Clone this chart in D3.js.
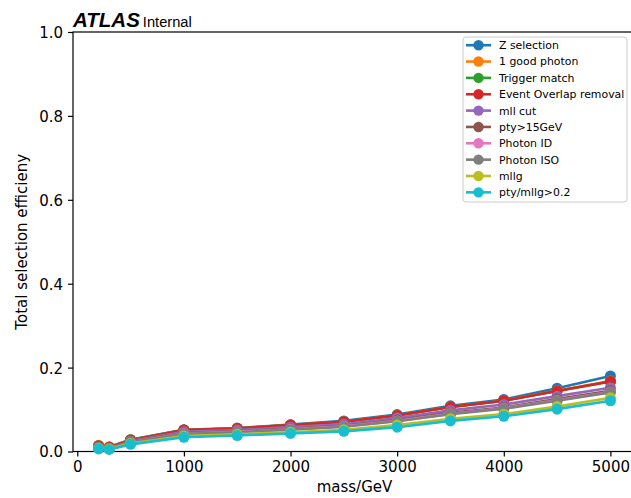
<!DOCTYPE html>
<html>
<head>
<meta charset="utf-8">
<script src="https://cdn.jsdelivr.net/npm/d3@7"></script>
<style>
  html, body { margin: 0; padding: 0; background: #fff; }
  svg { display: block; }
  .tick text { font-family: "DejaVu Sans", sans-serif; }
</style>
</head>
<body>
<svg id="chart" width="631" height="498"></svg>
<script>
// Signal mass points (GeV)
const masses = [200, 300, 500, 1000, 1500, 2000, 2500, 3000, 3500, 4000, 4500, 5000];

// Cumulative selection efficiency after each cut
const zSelection      = [0.013, 0.011, 0.028, 0.052, 0.056, 0.064, 0.073, 0.088, 0.109, 0.124, 0.151, 0.180];
const goodPhoton      = [0.015, 0.011, 0.028, 0.051, 0.055, 0.063, 0.071, 0.086, 0.106, 0.121, 0.145, 0.168];
const triggerMatch    = [0.014, 0.010, 0.028, 0.051, 0.055, 0.063, 0.071, 0.086, 0.106, 0.121, 0.144, 0.167];
const overlapRemoval  = [0.013, 0.010, 0.027, 0.051, 0.055, 0.063, 0.071, 0.086, 0.106, 0.121, 0.144, 0.167];
const mllCut          = [0.011, 0.008, 0.025, 0.047, 0.051, 0.058, 0.065, 0.080, 0.098, 0.112, 0.132, 0.152];
const ptyCut          = [0.010, 0.007, 0.023, 0.044, 0.048, 0.054, 0.061, 0.075, 0.092, 0.105, 0.125, 0.145];
const photonID        = [0.009, 0.007, 0.022, 0.043, 0.047, 0.053, 0.060, 0.073, 0.090, 0.103, 0.122, 0.142];
const photonISO       = [0.009, 0.007, 0.022, 0.042, 0.046, 0.052, 0.059, 0.072, 0.089, 0.102, 0.121, 0.141];
const mllgCut         = [0.007, 0.006, 0.019, 0.037, 0.041, 0.046, 0.052, 0.063, 0.078, 0.089, 0.107, 0.128];
const ptyOverMllg     = [0.006, 0.005, 0.017, 0.034, 0.038, 0.043, 0.048, 0.058, 0.073, 0.084, 0.101, 0.121];

const seriesNames = ["Z selection", "1 good photon", "Trigger match", "Event Overlap removal",
                     "mll cut", "pty>15GeV", "Photon ID", "Photon ISO", "mllg", "pty/mllg>0.2"];
const seriesValues = [zSelection, goodPhoton, triggerMatch, overlapRemoval, mllCut,
                      ptyCut, photonID, photonISO, mllgCut, ptyOverMllg];
const seriesColors = ["#1f77b4", "#ff7f0e", "#2ca02c", "#d62728", "#9467bd",
                      "#8c564b", "#e377c2", "#7f7f7f", "#bcbd22", "#17becf"];

const xTicks = [0, 1000, 2000, 3000, 4000, 5000];
const yTicks = [0.0, 0.2, 0.4, 0.6, 0.8, 1.0];

const svg = d3.select("#chart");
const plot = { left: 73, top: 32, right: 636, bottom: 451.5 };

const x = d3.scaleLinear().domain([-40, 5240]).range([plot.left, plot.right]);
const y = d3.scaleLinear().domain([0, 1]).range([plot.bottom, plot.top]);

// Axes
const xAxis = svg.append("g")
  .attr("transform", `translate(0,${plot.bottom})`)
  .call(d3.axisBottom(x).tickValues(xTicks).tickFormat(d3.format("d")).tickSize(5).tickPadding(5));
const yAxis = svg.append("g")
  .attr("transform", `translate(${plot.left},0)`)
  .call(d3.axisLeft(y).tickValues(yTicks).tickFormat(d3.format(".1f")).tickSize(5).tickPadding(5));
[xAxis, yAxis].forEach(g => {
  g.select(".domain").remove();
  g.selectAll(".tick line").attr("stroke", "#000").attr("stroke-width", 1.2);
  g.selectAll(".tick text").attr("fill", "#000").style("font-size", "15px");
});
yAxis.selectAll(".tick text").attr("dy", "0.36em");

// Frame
svg.append("rect")
  .attr("x", plot.left).attr("y", plot.top)
  .attr("width", plot.right - plot.left).attr("height", plot.bottom - plot.top)
  .attr("fill", "none").attr("stroke", "#000").attr("stroke-width", 1.2);

// Series lines and markers
const line = d3.line().x((d, i) => x(masses[i])).y(d => y(d));
seriesValues.forEach((vals, k) => {
  const g = svg.append("g");
  g.append("path")
    .datum(vals)
    .attr("d", line)
    .attr("fill", "none")
    .attr("stroke", seriesColors[k])
    .attr("stroke-width", 2.6)
    .attr("stroke-linejoin", "round");
  g.selectAll("circle")
    .data(vals)
    .join("circle")
    .attr("cx", (d, i) => x(masses[i]))
    .attr("cy", d => y(d))
    .attr("r", 5.5)
    .attr("fill", seriesColors[k]);
});

// Axis titles
svg.append("text")
  .attr("x", (plot.left + plot.right) / 2).attr("y", 492)
  .attr("text-anchor", "middle")
  .style("font-family", "DejaVu Sans, sans-serif").style("font-size", "15px")
  .text("mass/GeV");
svg.append("text")
  .attr("transform", `translate(27,${(plot.top + plot.bottom) / 2}) rotate(-90)`)
  .attr("text-anchor", "middle")
  .style("font-family", "DejaVu Sans, sans-serif").style("font-size", "15px")
  .text("Total selection efficieny");

// Experiment label
const atlas = svg.append("text").attr("x", 73).attr("y", 27)
  .style("font-family", "Liberation Sans, Arial, sans-serif");
atlas.append("tspan").style("font-weight", "bold").style("font-style", "italic")
  .style("font-size", "20.5px").text("ATLAS");
atlas.append("tspan").attr("dx", 3).style("font-size", "14.7px").text("Internal");

// Legend
const legend = svg.append("g");
legend.append("rect")
  .attr("x", 463).attr("y", 37).attr("width", 164).attr("height", 165)
  .attr("rx", 3).attr("fill", "#fff").attr("fill-opacity", 0.8)
  .attr("stroke", "#cccccc").attr("stroke-width", 1);
seriesNames.forEach((name, k) => {
  const yy = 45.2 + k * 16.35;
  legend.append("line")
    .attr("x1", 466).attr("x2", 491).attr("y1", yy).attr("y2", yy)
    .attr("stroke", seriesColors[k]).attr("stroke-width", 2.6);
  legend.append("circle")
    .attr("cx", 478.5).attr("cy", yy).attr("r", 5.2).attr("fill", seriesColors[k]);
  legend.append("text")
    .attr("x", 499).attr("y", yy).attr("dy", "0.36em")
    .style("font-family", "DejaVu Sans, sans-serif").style("font-size", "10.9px")
    .text(name);
});
</script>
</body>
</html>
